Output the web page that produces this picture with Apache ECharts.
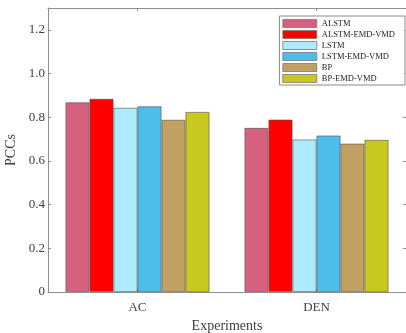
<!DOCTYPE html>
<html>
<head>
<meta charset="utf-8">
<script src="https://cdn.jsdelivr.net/npm/echarts@6/dist/echarts.min.js"></script>
<style>
  html, body { margin: 0; padding: 0; background: #fff; }
  #chart { width: 406px; height: 333px; }
</style>
</head>
<body>
<div id="chart"></div>
<script>
// Pearson correlation coefficients per model and experiment
const categories = ['AC', 'DEN'];
const modelNames = ['ALSTM', 'ALSTM-EMD-VMD', 'LSTM', 'LSTM-EMD-VMD', 'BP', 'BP-EMD-VMD'];
const alstm       = [0.868, 0.751];
const alstmEmdVmd = [0.884, 0.789];
const lstm        = [0.843, 0.698];
const lstmEmdVmd  = [0.850, 0.716];
const bp          = [0.788, 0.679];
const bpEmdVmd    = [0.824, 0.696];
const yTicks = [0, 0.2, 0.4, 0.6, 0.8, 1.0, 1.2];

const seriesValues = [alstm, alstmEmdVmd, lstm, lstmEmdVmd, bp, bpEmdVmd];
const colors = ['#D6617F', '#FF0000', '#AEEBFC', '#4DBDEC', '#C1A062', '#C9C81E'];

const font = '"Liberation Serif", "Times New Roman", serif';
const axisGray = '#8f8f8f';
const textColor = '#404040';

const chart = echarts.init(document.getElementById('chart'), null, { renderer: 'canvas' });

const yAxisBase = {
  type: 'value',
  min: 0,
  max: 1.3,
  interval: 0.2,
  splitLine: { show: false },
  axisLine: { show: true, lineStyle: { color: axisGray, width: 1 } },
  axisTick: { show: true, inside: true, length: 3, lineStyle: { color: axisGray } }
};

chart.setOption({
  backgroundColor: '#fff',
  animation: false,
  color: colors,
  grid: { left: 48, top: 8, width: 358, height: 284, containLabel: false, outerBoundsMode: 'none' },
  legend: {
    orient: 'vertical',
    right: 1,
    top: 16,
    icon: 'rect',
    itemWidth: 34,
    itemHeight: 8,
    itemGap: 2,
    padding: [3, 10, 2, 3],
    borderColor: '#8a8a8a',
    borderWidth: 1,
    backgroundColor: '#fff',
    itemStyle: { borderColor: '#7a7a7a', borderWidth: 0.8 },
    textStyle: { fontFamily: font, fontSize: 8.5, color: '#222', padding: [0, 0, 0, 0] },
    data: modelNames
  },
  xAxis: [
    {
      type: 'category',
      data: categories,
      name: 'Experiments',
      nameLocation: 'middle',
      nameGap: 24,
      nameTextStyle: { fontFamily: font, fontSize: 14, color: textColor },
      axisLine: { show: true, lineStyle: { color: axisGray, width: 1 } },
      axisTick: { show: true, inside: true, alignWithLabel: true, length: 3, lineStyle: { color: axisGray } },
      axisLabel: { fontFamily: font, fontSize: 13, color: textColor, margin: 9 }
    },
    {
      type: 'category',
      data: categories,
      position: 'top',
      axisLine: { show: true, onZero: false, lineStyle: { color: axisGray, width: 1 } },
      axisTick: { show: true, inside: true, alignWithLabel: true, length: 3, lineStyle: { color: axisGray } },
      axisLabel: { show: false }
    }
  ],
  yAxis: [
    Object.assign({}, yAxisBase, {
      name: 'PCCs',
      nameLocation: 'middle',
      nameGap: 24,
      nameRotate: 90,
      nameTextStyle: { fontFamily: font, fontSize: 14, color: textColor },
      axisLabel: {
        fontFamily: font,
        fontSize: 13,
        color: textColor,
        margin: 3,
        formatter: function (v) {
          const r = Math.round(v * 10) / 10;
          if (!yTicks.some(t => Math.abs(t - r) < 1e-9)) return '';
          return r === 0 ? '0' : r.toFixed(1);
        }
      }
    }),
    Object.assign({}, yAxisBase, {
      position: 'right',
      axisLabel: { show: false }
    })
  ],
  series: modelNames.map((name, i) => ({
    name: name,
    type: 'bar',
    xAxisIndex: 0,
    yAxisIndex: 0,
    barWidth: 24,
    barGap: '0%',
    data: seriesValues[i],
    itemStyle: { color: colors[i], borderColor: 'rgba(80,80,80,0.75)', borderWidth: 0.8 }
  }))
});
</script>
</body>
</html>
